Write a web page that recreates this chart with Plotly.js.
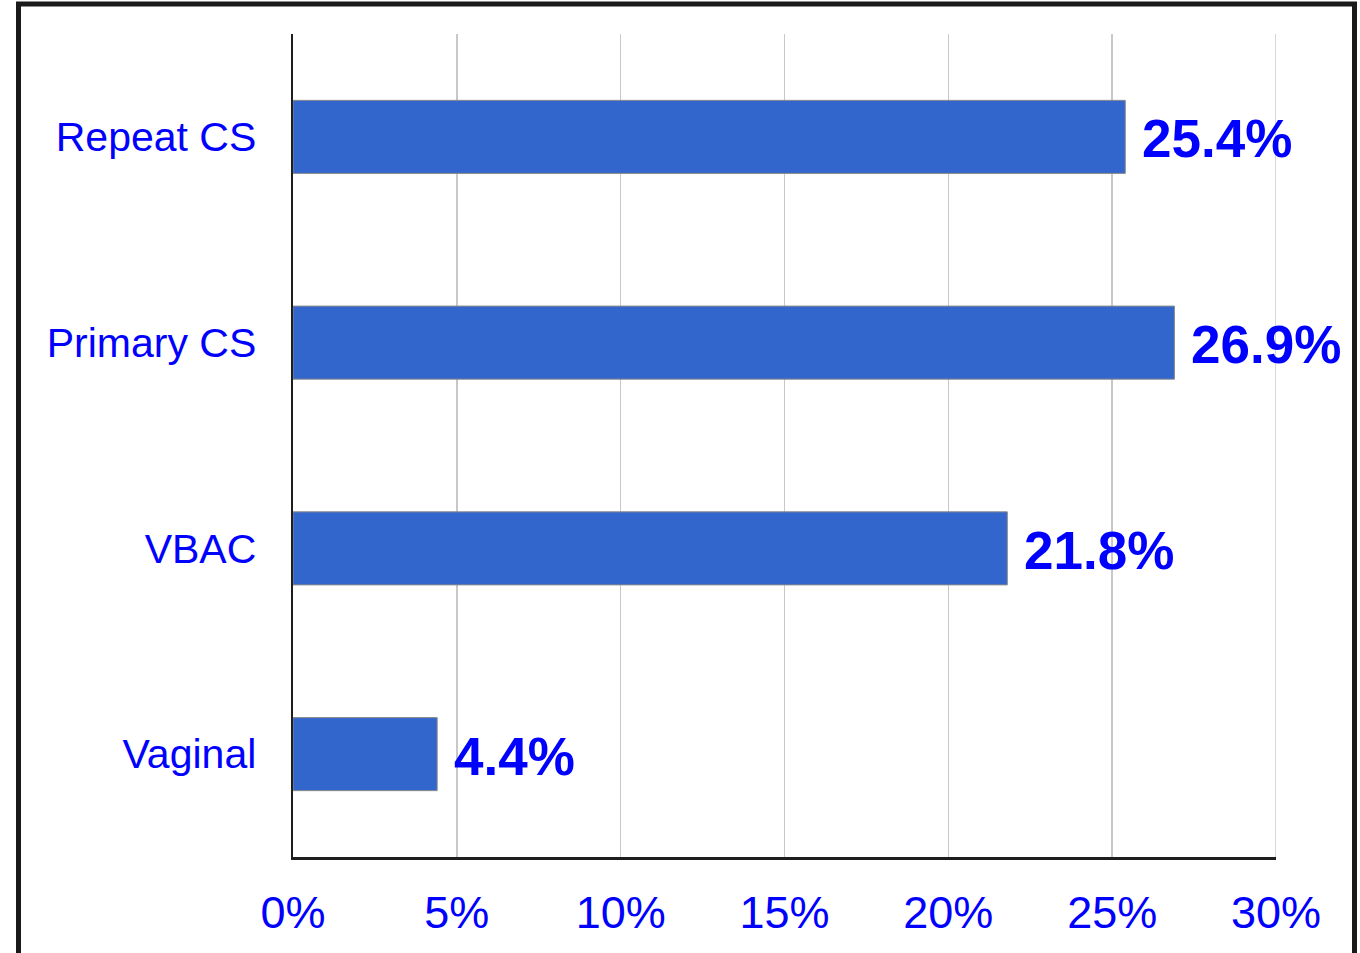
<!DOCTYPE html>
<html>
<head>
<meta charset="utf-8">
<script src="https://cdn.plot.ly/plotly-3.0.1.min.js"></script>
<style>
html,body{margin:0;padding:0;background:#fff;}
#chart{width:1360px;height:953px;}
</style>
</head>
<body>
<div id="chart"></div>
<script>
var categories = ['Repeat CS', 'Primary CS', 'VBAC', 'Vaginal'];
var values = [25.4, 26.9, 21.8, 4.4];
var valueLabels = ['25.4%', '26.9%', '21.8%', '4.4%'];
var xTickValues = [0, 5, 10, 15, 20, 25, 30];
var xTickLabels = ['0%', '5%', '10%', '15%', '20%', '25%', '30%'];

var FONT = 'Liberation Sans, Arial, sans-serif';
var BLUE = '#0000FF';

var trace = {
  type: 'bar',
  orientation: 'h',
  x: values,
  y: categories,
  width: 0.355,
  marker: {color: '#3366CC', line: {color: '#8a8a8a', width: 1}},
  hoverinfo: 'none'
};

var annotations = values.map(function (v, i) {
  return {
    x: v, y: categories[i], xref: 'x', yref: 'y',
    text: valueLabels[i], showarrow: false,
    xanchor: 'left', yanchor: 'middle', xshift: 15, yshift: -2,
    font: {family: FONT, size: 53, color: BLUE, weight: 'bold'}
  };
});

var lastTick = xTickValues[xTickValues.length - 1];

var layout = {
  width: 1360, height: 953,
  margin: {l: 293, r: 84, t: 34, b: 96},
  paper_bgcolor: '#ffffff', plot_bgcolor: '#ffffff',
  showlegend: false,
  xaxis: {
    range: [0, 30], tickmode: 'array', tickvals: xTickValues, ticktext: xTickLabels,
    showgrid: true, gridcolor: '#c8c8c8', gridwidth: 1.5,
    zeroline: false, showline: true, linecolor: '#1e1e1e', linewidth: 2.5,
    ticks: '', ticklabelstandoff: 14,
    tickfont: {family: FONT, size: 45, color: BLUE},
    fixedrange: true
  },
  yaxis: {
    type: 'category', categoryorder: 'array', categoryarray: categories,
    autorange: 'reversed',
    showgrid: false, zeroline: false, showline: true, linecolor: '#1e1e1e', linewidth: 2.5,
    ticks: '', ticklabelstandoff: 26,
    tickfont: {family: FONT, size: 41, color: BLUE},
    fixedrange: true
  },
  annotations: annotations,
  shapes: [{
    type: 'line', xref: 'x', yref: 'paper',
    x0: lastTick, x1: lastTick, y0: 0, y1: 1,
    line: {color: '#c8c8c8', width: 1.5}, layer: 'below'
  }, {
    type: 'rect', xref: 'paper', yref: 'paper',
    x0: (18.5 - 293) / 983, x1: (1354.5 - 293) / 983,
    y0: (857 - 980) / 823, y1: (857 - 4) / 823,
    line: {color: '#1a1a1a', width: 5}, fillcolor: 'rgba(0,0,0,0)', layer: 'above'
  }]
};

Plotly.newPlot('chart', [trace], layout, {displayModeBar: false, staticPlot: true});
</script>
</body>
</html>
